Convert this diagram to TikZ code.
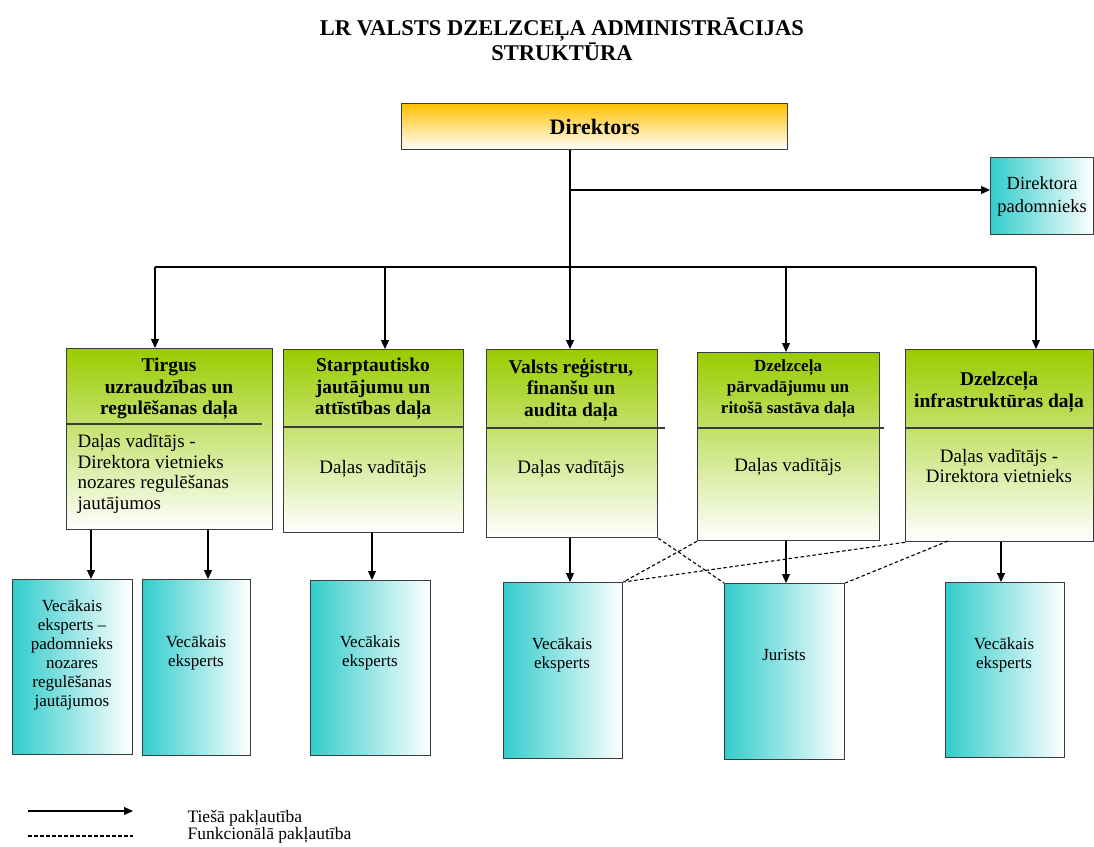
\documentclass[tikz,border=0pt]{standalone}
\usepackage{fontspec}
\setmainfont{Liberation Serif}
\usetikzlibrary{arrows.meta}
\definecolor{grn}{RGB}{153,204,0}
\definecolor{tealc}{RGB}{51,204,204}
\definecolor{orng}{RGB}{255,192,0}
\definecolor{bord}{RGB}{60,60,60}
\begin{document}
\begin{tikzpicture}[x=1pt,y=-1pt,
  box/.style={draw=bord,line width=1.3pt,anchor=north west,inner sep=0pt},
  dept/.style={box,top color=grn,bottom color=white},
  expert/.style={box,left color=tealc,right color=white},
  hdr/.style={font=\fontsize{19.5}{21.5}\selectfont\bfseries,align=center},
  hdrs/.style={font=\fontsize{17}{21}\selectfont\bfseries,align=center},
  body/.style={font=\fontsize{19}{20.5}\selectfont,align=center},
  small/.style={font=\fontsize{17}{19}\selectfont,align=center},
  arr/.style={line width=1.1pt,-{Triangle[length=9pt,width=8pt]}},
  conn/.style={line width=1.1pt},
  func/.style={line width=1.1pt,dash pattern=on 3.5pt off 2.5pt},
  divl/.style={line width=1.3pt,draw=bord}]
\useasboundingbox (0,0) rectangle (1094,846);

% title
\node[font=\fontsize{22.5}{25}\selectfont\bfseries,align=center] (title) at (562,39) {LR VALSTS DZELZCEĻA ADMINISTRĀCIJAS\\STRUKTŪRA};

% director
\node[box,top color=orng,bottom color=white,minimum width=386pt,minimum height=46pt,font=\fontsize{22}{24}\selectfont\bfseries] (dir) at (401,103) {Direktors};
\node[expert,minimum width=103pt,minimum height=77pt,align=center,font=\fontsize{18.5}{23}\selectfont] (adv) at (990,157) {Direktora\\padomnieks};

% departments
\node[dept,minimum width=206pt,minimum height=181pt] (T) at (66,348) {};
\node[dept,minimum width=180pt,minimum height=183pt] (S) at (283,349) {};
\node[dept,minimum width=171pt,minimum height=188pt] (V) at (486,349) {};
\node[dept,minimum width=182pt,minimum height=188pt] (P) at (697,352) {};
\node[dept,minimum width=188pt,minimum height=192pt] (I) at (905,349) {};

\draw[divl] (66,424) -- (262,424);
\draw[divl] (283,427) -- (463,427);
\draw[divl] (486,428) -- (665,428);
\draw[divl] (697,428) -- (884,428);
\draw[divl] (905,428) -- (1093,428);

\node[hdr] (Th) at (169,389) {Tirgus\\uzraudzības un\\regulēšanas daļa};
\node[hdr] (Sh) at (373,389) {Starptautisko\\jautājumu un\\attīstības daļa};
\node[hdr] (Vh) at (571,390) {Valsts reģistru,\\finanšu un\\audita daļa};
\node[hdrs] (Ph) at (788,389) {Dzelzceļa\\pārvadājumu un\\ritošā sastāva daļa};
\node[hdr] (Ih) at (999,392) {Dzelzceļa\\infrastruktūras daļa};

\node[body,align=left,anchor=west] (Tb) at (74,474) {Daļas vadītājs -\\Direktora vietnieks\\nozares regulēšanas\\jautājumos};
\node[body] (Sb) at (373,469) {Daļas vadītājs};
\node[body] (Vb) at (571,469) {Daļas vadītājs};
\node[body] (Pb) at (788,467) {Daļas vadītājs};
\node[body] (Ib) at (999,466) {Daļas vadītājs -\\Direktora vietnieks};

% experts
\node[expert,minimum width=120pt,minimum height=175pt] (A) at (12,579) {};
\node[expert,minimum width=108pt,minimum height=176pt] (B) at (142,579) {};
\node[expert,minimum width=120pt,minimum height=175pt] (C) at (310,580) {};
\node[expert,minimum width=119pt,minimum height=176pt] (D) at (503,582) {};
\node[expert,minimum width=120pt,minimum height=176pt] (E) at (724,583) {};
\node[expert,minimum width=119pt,minimum height=175pt] (F) at (945,582) {};

\node[small] (At) at (72,655) {Vecākais\\eksperts –\\padomnieks\\nozares\\regulēšanas\\jautājumos};
\node[small] (Bt) at (196,653) {Vecākais\\eksperts};
\node[small] (Ct) at (370,653) {Vecākais\\eksperts};
\node[small] (Dt) at (562,655) {Vecākais\\eksperts};
\node[small] (Et) at (784,655) {Jurists};
\node[small] (Ft) at (1004,655) {Vecākais\\eksperts};

% connectors
\coordinate (j1) at (570,190);
\coordinate (j2) at (570,267);
\coordinate (b1) at (155,267);
\coordinate (b2) at (385,267);
\coordinate (b4) at (786,267);
\coordinate (b5) at (1036,267);
\draw[conn] (dir.south -| j2) -- (j2);
\draw[arr] (j1) -- (adv.west |- j1);
\draw[conn] (b1) -- (b5);
\draw[arr] (b1) -- (T.north -| b1);
\draw[arr] (b2) -- (S.north -| b2);
\draw[arr] (j2) -- (V.north -| j2);
\draw[arr] (b4) -- (P.north -| b4);
\draw[arr] (b5) -- (I.north -| b5);

\coordinate (xa) at (91,0);
\coordinate (xb) at (208,0);
\coordinate (xc) at (372,0);
\coordinate (xd) at (570,0);
\coordinate (xe) at (786,0);
\coordinate (xf) at (1001,0);
\draw[arr] (T.south -| xa) -- (A.north -| xa);
\draw[arr] (T.south -| xb) -- (B.north -| xb);
\draw[arr] (S.south -| xc) -- (C.north -| xc);
\draw[arr] (V.south -| xd) -- (D.north -| xd);
\draw[arr] (P.south -| xe) -- (E.north -| xe);
\draw[arr] (I.south -| xf) -- (F.north -| xf);

% functional
\coordinate (iq) at (948,541);
\draw[func] (V.south east) -- (E.north west);
\draw[func] (P.south west) -- (D.north east);
\draw[func] (I.south west) -- (D.north east);
\draw[func] (iq) -- (E.north east);

% legend
\coordinate (l1a) at (28,811);
\coordinate (l1b) at (133,811);
\coordinate (l2a) at (28,836);
\coordinate (l2b) at (133,836);
\draw[arr] (l1a) -- (l1b);
\draw[func] (l2a) -- (l2b);
\node[anchor=west,font=\fontsize{17.5}{18}\selectfont] (lg1) at (184,818) {Tiešā pakļautība};
\node[anchor=west,font=\fontsize{17.5}{18}\selectfont] (lg2) at (184,835) {Funkcionālā pakļautība};
\end{tikzpicture}
\end{document}
